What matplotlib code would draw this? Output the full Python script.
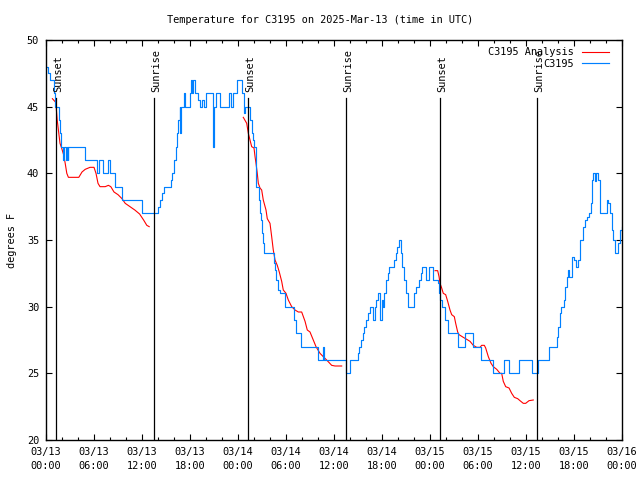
import matplotlib
matplotlib.use("Agg")
import matplotlib.pyplot as plt
from matplotlib.ticker import MultipleLocator

TITLE = "Temperature for C3195 on 2025-Mar-13 (time in UTC)"
STATION = "C3195"
YLABEL = "degrees F"

# hours since 03/13 00:00 UTC
XTICK_HOURS = [0, 6, 12, 18, 24, 30, 36, 42, 48, 54, 60, 66, 72]
XTICK_LABELS = ["03/13\n00:00", "03/13\n06:00", "03/13\n12:00", "03/13\n18:00",
                "03/14\n00:00", "03/14\n06:00", "03/14\n12:00", "03/14\n18:00",
                "03/15\n00:00", "03/15\n06:00", "03/15\n12:00", "03/15\n18:00",
                "03/16\n00:00"]

SUNSET_HOURS = [1.3, 25.3, 49.3]
SUNRISE_HOURS = [13.53, 37.55, 61.42]

# observed temperature (F), change points
obs_hours = [0.0, 0.25, 0.45, 0.95, 1.1, 1.6, 1.7, 1.85, 2.08, 2.25, 2.5, 2.67, 2.75, 2.8,
             4.9, 6.33, 6.6, 7.1, 7.8, 8.0, 8.6, 9.5, 12.0, 14.0, 14.2, 14.5, 14.75,
             15.6, 15.75, 16.0, 16.25, 16.4, 16.55, 16.7, 16.8, 16.9, 17.2, 17.4, 17.95,
             18.1, 18.25, 18.4, 18.6, 19.0, 19.3, 19.5, 19.7, 19.95, 20.85, 20.95, 21.2,
             21.7, 22.85, 23.1, 23.4, 23.85, 24.5, 24.7, 24.8, 24.9, 25.5, 25.7, 25.9,
             26.05, 26.3, 26.6, 26.75, 26.85, 27.0, 27.15, 27.3, 28.45, 28.6, 28.8, 29.0,
             29.3, 29.9, 30.95, 31.2, 31.3, 31.9, 34.05, 34.6, 34.7, 37.45, 37.95, 38.95,
             39.1, 39.4, 39.6, 39.8, 40.0, 40.3, 40.5, 40.85, 41.15, 41.3, 41.5, 41.7,
             41.8, 41.95, 42.1, 42.3, 42.5, 42.7, 42.85, 43.5, 43.7, 43.9, 44.15, 44.35,
             44.55, 44.75, 44.95, 45.2, 46.0, 46.3, 46.6, 46.9, 47.05, 47.5, 47.85, 48.4,
             49.0, 49.1, 49.3, 49.5, 49.85, 50.3, 51.45, 52.4, 53.35, 54.35, 55.9, 57.3,
             57.9, 59.1, 60.8, 61.5, 62.9, 63.9, 64.0, 64.25, 64.4, 64.7, 64.9, 65.1,
             65.3, 65.4, 65.7, 65.8, 66.0, 66.25, 66.5, 66.7, 66.8, 67.1, 67.4, 67.6,
             67.9, 68.1, 68.2, 68.3, 68.4, 68.6, 68.8, 69.0, 69.2, 69.3, 70.1, 70.3,
             70.5, 70.7, 70.9, 71.1, 71.5, 71.75, 72.0]
obs_temps = [48, 47.5, 47, 46, 45, 44, 43, 42, 41, 42, 41, 42, 41, 42,
             41, 40, 41, 40, 41, 40, 39, 38, 37, 37.5, 38, 38.5, 39,
             39.5, 40, 41, 42, 43, 44, 45, 43, 45, 46, 45, 46,
             47, 46, 47, 46, 45.5, 45, 45.5, 45, 46, 42, 45, 46,
             45, 46, 45, 46, 47, 46, 45, 44.5, 45, 44, 43, 42.5,
             42, 39, 38, 37, 36.5, 35.5, 34.75, 34, 33.25, 32.75, 32, 31.25,
             31, 30, 29, 28.5, 28, 27, 26, 27, 26, 25, 26, 26.5,
             27, 27.5, 28, 28.5, 29, 29.5, 30, 29, 30, 30.5, 31, 30,
             29, 30.5, 30, 31, 32, 32.5, 33, 33.5, 34, 34.5, 35, 34,
             33, 32, 31, 30, 31, 31.5, 32, 32.5, 33, 32, 33, 32,
             31.75, 31, 30.5, 30, 29, 28, 27, 28, 27, 26, 25, 26,
             25, 26, 25, 26, 27, 27.75, 28.5, 29.5, 30, 30.5, 31.5, 32.25,
             32.75, 32.25, 32.5, 33.75, 33.5, 33, 33.5, 34.5, 35, 36, 36.5, 36.75,
             37, 37.75, 38.5, 39.5, 40, 39.4, 40, 39.5, 38.5, 37, 38, 37.75,
             37, 35.75, 35, 34, 34.75, 35.75, 36]

# analysis temperature (F), one run per night (nan = gap)
nan = float("nan")
ana_hours = [0.8, 1.25, 1.3, 1.4, 1.55, 1.75, 1.95, 2.2, 2.4, 2.6, 2.8, 4.1, 4.5, 4.9,
             5.5, 6.0, 6.25, 6.5, 6.75, 7.4, 7.8, 8.1, 8.5, 9.0, 9.5, 9.9, 10.5, 11.1,
             11.7, 12.2, 12.6, 12.9, nan,
             24.66, 25.09, 25.29, 25.5, 25.71, 26.0, 26.13, 26.25, 26.41, 26.54, 26.75,
             26.96, 27.16, 27.5, 27.66, 28.0, 28.21, 28.41, 28.63, 28.91, 29.16, 29.46,
             29.66, 30.0, 30.29, 30.71, 31.13, 31.54, 31.96, 32.38, 32.66, 33.0, 33.41,
             33.75, 34.25, 34.66, 35.16, 35.71, 36.13, 36.96, nan,
             48.63, 48.96, 49.13, 49.25, 49.46, 49.66, 49.96, 50.21, 50.5, 50.71, 51.04,
             51.21, 51.46, 51.63, 52.16, 52.59, 53.0, 53.41, 53.84, 54.25, 54.46, 54.79,
             54.96, 55.29, 55.63, 55.91, 56.34, 56.75, 56.96, 57.16, 57.46, 57.88, 58.21,
             58.54, 58.96, 59.25, 59.66, 59.96, 60.38, 60.91]
ana_temps = [45.6, 45.3, 44.75, 44.0, 43.25, 42.25, 41.9, 41.4, 40.75, 40.0, 39.7, 39.7,
             40.1, 40.3, 40.45, 40.45, 40.0, 39.25, 39.0, 39.0, 39.1, 39.0, 38.6, 38.4,
             38.1, 37.75, 37.5, 37.25, 36.95, 36.5, 36.1, 36.0, nan,
             44.2, 43.75, 43.0, 42.5, 42.0, 41.9, 41.25, 40.75, 40.0, 39.25, 38.9,
             38.75, 38.0, 37.25, 36.6, 36.25, 35.25, 34.25, 33.5, 33.1, 32.6, 31.9,
             31.25, 31.0, 30.5, 30.0, 29.75, 29.6, 29.6, 28.9, 28.25, 28.1, 27.5,
             27.0, 26.5, 26.25, 25.95, 25.6, 25.55, 25.55, nan,
             32.7, 32.7, 32.25, 31.75, 31.4, 31.0, 30.9, 30.4, 29.75, 29.4, 29.25,
             28.75, 28.1, 27.9, 27.7, 27.55, 27.4, 27.1, 26.95, 26.95, 27.1, 27.1,
             26.9, 26.25, 25.75, 25.5, 25.3, 25.0, 25.0, 24.4, 24.0, 23.9, 23.5,
             23.2, 23.1, 22.95, 22.75, 22.75, 22.95, 23.0]

FONT = "DejaVu Sans Mono"
FS = 7.4


def main() -> None:
    plt.rcParams["font.family"] = FONT
    plt.rcParams["font.size"] = FS

    fig = plt.figure(figsize=(6.4, 4.8), dpi=100)
    ax = fig.add_axes([46 / 640, 40 / 480, 576 / 640, 400 / 480])

    ax.plot(ana_hours, ana_temps, color="#ff0000", lw=0.8, label=f"{STATION} Analysis")
    ax.plot(obs_hours, obs_temps, color="#0080ff", lw=0.85, drawstyle="steps-post",
            label=STATION)

    xtrans = ax.get_xaxis_transform()
    for h in SUNSET_HOURS + SUNRISE_HOURS:
        ax.plot([h, h], [0, 0.854], color="black", lw=0.9, transform=xtrans)
    for h in SUNSET_HOURS:
        ax.text(h + 0.2, 0.87, "Sunset", rotation=90, ha="center", va="bottom",
                transform=xtrans)
    for h in SUNRISE_HOURS:
        ax.text(h + 0.2, 0.87, "Sunrise", rotation=90, ha="center", va="bottom",
                transform=xtrans)

    ax.set_xlim(0, 72)
    ax.set_ylim(20, 50)
    ax.set_xticks(XTICK_HOURS)
    ax.set_xticklabels(XTICK_LABELS, linespacing=1.5)
    ax.xaxis.set_minor_locator(MultipleLocator(2))
    ax.yaxis.set_major_locator(MultipleLocator(5))
    ax.tick_params(which="both", direction="in", top=True, right=True, width=0.8)
    ax.tick_params(which="major", length=4, pad=5)
    ax.tick_params(which="minor", length=2.5)
    for s in ax.spines.values():
        s.set_linewidth(1.0)

    fig.text(12 / 640, 0.5, YLABEL, rotation=90, ha="center", va="center")
    fig.text(0.5, 1 - 20 / 480, TITLE, ha="center", va="center")

    ax.legend(loc="upper right", frameon=False, markerfirst=False, handlelength=2.6,
              handletextpad=0.8, labelspacing=0.15, borderaxespad=0.3,
              bbox_to_anchor=(0.99, 1.0))

    fig.savefig("out.png", dpi=100, facecolor="white")


if __name__ == "__main__":
    main()
